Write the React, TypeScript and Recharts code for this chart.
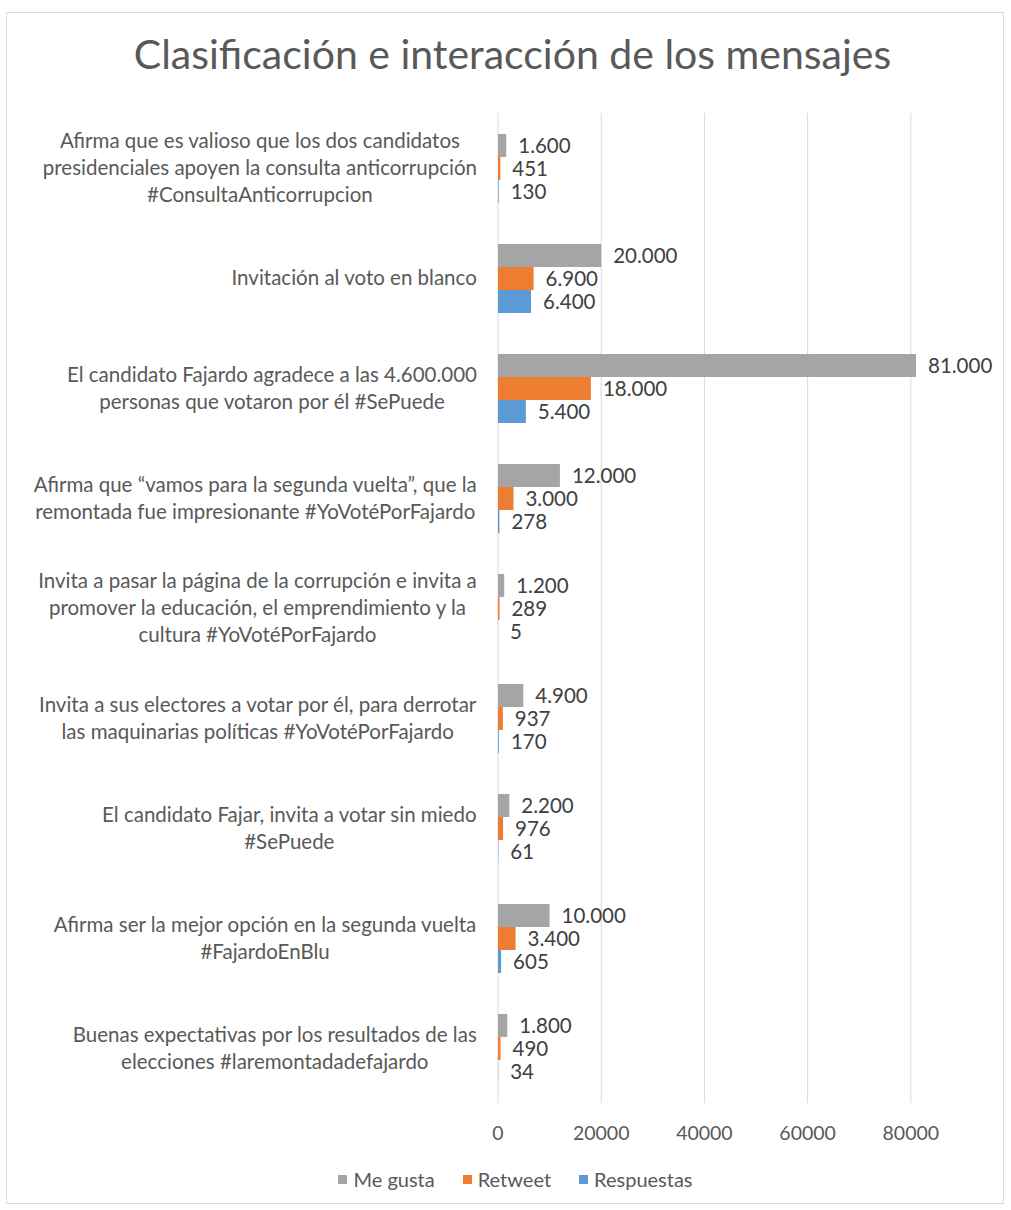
import { Bar, BarChart, CartesianGrid, LabelList, XAxis, YAxis } from 'recharts';

const categorias: string[][] = [
  ['Afirma que es valioso que los dos candidatos', 'presidenciales apoyen la consulta anticorrupción', '#ConsultaAnticorrupcion'],
  ['Invitación al voto en blanco'],
  ['El candidato Fajardo agradece a las 4.600.000', 'personas que votaron por él #SePuede'],
  ['Afirma que “vamos para la segunda vuelta”, que la', 'remontada fue impresionante #YoVotéPorFajardo'],
  ['Invita a pasar la página de la corrupción e invita a', 'promover la educación, el emprendimiento y la', 'cultura #YoVotéPorFajardo'],
  ['Invita a sus electores a votar por él, para derrotar', 'las maquinarias políticas #YoVotéPorFajardo'],
  ['El candidato Fajar, invita a votar sin miedo', '#SePuede'],
  ['Afirma ser la mejor opción en la segunda vuelta', '#FajardoEnBlu'],
  ['Buenas expectativas por los resultados de las', 'elecciones #laremontadadefajardo'],
];

const meGusta = [1600, 20000, 81000, 12000, 1200, 4900, 2200, 10000, 1800];
const retweet = [451, 6900, 18000, 3000, 289, 937, 976, 3400, 490];
const respuestas = [130, 6400, 5400, 278, 5, 170, 61, 605, 34];

const xTicks = [0, 20000, 40000, 60000, 80000];
const xMax = 81000;

const series = [
  { key: 'meGusta', label: 'Me gusta', cor: '#a5a5a5' },
  { key: 'retweet', label: 'Retweet', cor: '#ed7d31' },
  { key: 'respuestas', label: 'Respuestas', cor: '#5b9bd5' },
];

const data = categorias.map((lines, i) => ({
  name: lines.join(' '),
  meGusta: meGusta[i],
  retweet: retweet[i],
  respuestas: respuestas[i],
}));

const FONT = 'Lato, "Open Sans", sans-serif';
const TXT = '#595959';

const fmt = (v: number) => String(v).replace(/\B(?=(\d{3})+(?!\d))/g, '.');

let ctx: CanvasRenderingContext2D | null = null;
function measure(text: string, size: number) {
  if (!ctx) ctx = document.createElement('canvas').getContext('2d');
  if (!ctx) return text.length * size * 0.5;
  ctx.font = `${size}px Lato`;
  return ctx.measureText(text).width;
}

// only draw grid lines at the axis ticks (not at the domain end)
function gridX({ xAxis, offset }: any) {
  const sc = xAxis?.scale;
  if (typeof sc === 'function') return xTicks.map((t) => sc(t));
  return xTicks.map((t) => offset.left + (t / xMax) * offset.width);
}

function CategoryTick(props: any) {
  const { x, y, payload } = props;
  const lines = categorias[payload.index] ?? [payload.value];
  const size = 20.5;
  const lh = 27;
  const w = Math.max(...lines.map((l) => measure(l, size)));
  const cx = x - w / 2;
  const y0 = y - ((lines.length - 1) * lh) / 2;
  return (
    <text x={cx} y={y0} textAnchor="middle" fill={TXT} fontSize={size} fontFamily={FONT}>
      {lines.map((l, i) => (
        <tspan key={i} x={cx} y={y0 + i * lh} dy="0.35em">
          {l}
        </tspan>
      ))}
    </text>
  );
}

function Leyenda() {
  return (
    <div
      style={{
        position: 'absolute',
        top: 1167,
        left: 0,
        width: 1011,
        display: 'flex',
        justifyContent: 'center',
        gap: 28,
        fontFamily: FONT,
        fontSize: 20,
        color: TXT,
        paddingLeft: 20,
        boxSizing: 'border-box',
      }}
    >
      {series.map((s) => (
        <span key={s.key} style={{ display: 'flex', alignItems: 'center' }}>
          <span style={{ width: 9, height: 9, background: s.cor, marginRight: 6, display: 'inline-block' }} />
          {s.label}
        </span>
      ))}
    </div>
  );
}

export default function App() {
  return (
    <div style={{ position: 'absolute', left: 0, top: 0, width: 1011, height: 1210, background: '#fff' }}>
      <div
        style={{
          position: 'absolute',
          left: 6,
          top: 12,
          width: 998,
          height: 1192,
          border: '1px solid #d9d9d9',
          boxSizing: 'border-box',
        }}
      />
      <div
        style={{
          position: 'absolute',
          top: 29,
          left: 0,
          width: 1011,
          paddingLeft: 14,
          boxSizing: 'border-box',
          textAlign: 'center',
          fontFamily: FONT,
          fontSize: 41,
          color: TXT,
        }}
      >
        Clasificación e interacción de los mensajes
      </div>
      <BarChart
        width={1011}
        height={1210}
        data={data}
        layout="vertical"
        barGap={0}
        barSize={23}
        margin={{ top: 113, right: 95, left: 0, bottom: 77 }}
        style={{ position: 'absolute', left: 0, top: 0 }}
      >
        <CartesianGrid horizontal={false} stroke="#d9d9d9" verticalCoordinatesGenerator={gridX} />
        <XAxis
          type="number"
          domain={[0, xMax]}
          ticks={xTicks}
          axisLine={false}
          tickLine={false}
          tickMargin={17}
          tick={{ fontSize: 19.5, fill: TXT, fontFamily: FONT }}
        />
        <YAxis
          type="category"
          dataKey="name"
          width={498}
          axisLine={false}
          tickLine={false}
          tickSize={0}
          tickMargin={21}
          interval={0}
          tick={<CategoryTick />}
        />
        {series.map((s) => (
          <Bar key={s.key} dataKey={s.key} name={s.label} fill={s.cor} isAnimationActive={false}>
            <LabelList
              dataKey={s.key}
              position="right"
              offset={12}
              formatter={(v: any) => fmt(Number(v))}
              style={{ fontSize: 20.5, fill: '#404040', fontFamily: FONT }}
            />
          </Bar>
        ))}
      </BarChart>
      <Leyenda />
    </div>
  );
}
